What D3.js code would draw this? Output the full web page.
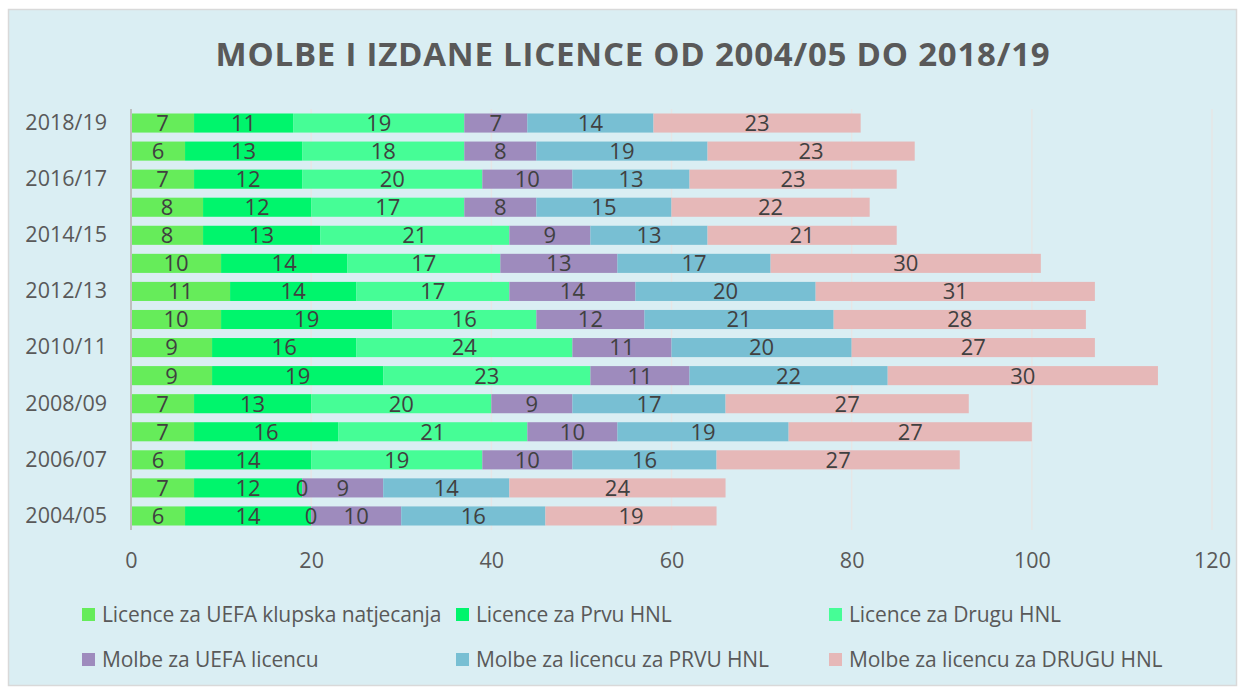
<!DOCTYPE html>
<html><head><meta charset="utf-8">
<script src="https://cdn.jsdelivr.net/npm/d3@7"></script>
<style>body{margin:0;background:#fff;}svg{display:block;font-family:"Open Sans",sans-serif;}</style>
</head><body>
<svg id="c" width="1238" height="687"></svg>
<script>
const seasons = ["2004/05","2005/06","2006/07","2007/08","2008/09","2009/10","2010/11","2011/12","2012/13","2013/14","2014/15","2015/16","2016/17","2017/18","2018/19"];
const seriesNames = ["Licence za UEFA klupska natjecanja","Licence za Prvu HNL","Licence za Drugu HNL","Molbe za UEFA licencu","Molbe za licencu za PRVU HNL","Molbe za licencu za DRUGU HNL"];
const uefaLic   = [6,7,6,7,7,9,9,10,11,10,8,8,7,6,7];
const prvaLic   = [14,12,14,16,13,19,16,19,14,14,13,12,12,13,11];
const drugaLic  = [0,0,19,21,20,23,24,16,17,17,21,17,20,18,19];
const uefaMol   = [10,9,10,10,9,11,11,12,14,13,9,8,10,8,7];
const prvaMol   = [16,14,16,19,17,22,20,21,20,17,13,15,13,19,14];
const drugaMol  = [19,24,27,27,27,30,27,28,31,30,21,22,23,23,23];
const xTicks = [0,20,40,60,80,100,120];
const colors = ["#66EC5A","#00F56C","#46FD96","#9E8BBD","#78BFD3","#E6B8B8"];

const series = [uefaLic,prvaLic,drugaLic,uefaMol,prvaMol,drugaMol];
const svg = d3.select("#c");
svg.append("rect").attr("x",8.5).attr("y",9.5).attr("width",1228).attr("height",676)
  .attr("fill","#DAEEF3").attr("stroke","#D9D9D9").attr("stroke-width",1.5);

const title = svg.append("text").attr("x",633).attr("y",66).attr("text-anchor","middle")
  .attr("font-size",33).attr("font-weight",700).attr("fill","#595959")
  .text("MOLBE I IZDANE LICENCE OD 2004/05 DO 2018/19");
{ const w = title.node().getComputedTextLength(); const n = title.text().length;
  title.attr("letter-spacing", ((834 - w)/(n-1)).toFixed(2)); }

const x = d3.scaleLinear().domain([0,120]).range([131,1212]);
const y = d3.scaleBand().domain(seasons.slice().reverse()).range([109,530]).paddingInner(0.32).paddingOuter(0.16);

// grid
svg.append("g").selectAll("line").data(xTicks.filter(d=>d>0)).join("line")
  .attr("x1",d=>x(d)).attr("x2",d=>x(d)).attr("y1",109).attr("y2",530)
  .attr("stroke","#E6E6E6").attr("stroke-width",1.5);

const table = seasons.map((s,i)=>{const o={season:s}; seriesNames.forEach((n,k)=>o[n]=series[k][i]); return o;});
const stack = d3.stack().keys(seriesNames)(table);

const g = svg.append("g");
stack.forEach((layer,k)=>{
  g.append("g").selectAll("rect").data(layer).join("rect")
    .attr("x",d=>x(d[0])).attr("width",d=>x(d[1])-x(d[0]))
    .attr("y",d=>y(d.data.season)).attr("height",y.bandwidth())
    .attr("fill",colors[k]);
});
stack.forEach((layer,k)=>{
  g.append("g").selectAll("text").data(layer).join("text")
    .attr("x",d=>(x(d[0])+x(d[1]))/2).attr("y",d=>y(d.data.season)+y.bandwidth()/2)
    .attr("dy","0.36em").attr("text-anchor","middle").attr("font-size",22).attr("fill","#404040")
    .text(d=>d[1]-d[0]);
});

// axis line at 0
svg.append("line").attr("x1",x(0)).attr("x2",x(0)).attr("y1",109).attr("y2",530)
  .attr("stroke","#BFBFBF").attr("stroke-width",2);

// x tick labels
const xa = svg.append("g").attr("transform","translate(0,530)").call(d3.axisBottom(x).tickValues(xTicks).tickSize(0).tickPadding(23));
xa.select(".domain").remove();
xa.selectAll("text").attr("font-size",21.5).attr("fill","#595959").attr("font-family","Open Sans");

// y labels
const ya = svg.append("g").attr("transform","translate(131,0)").call(d3.axisLeft(y).tickSize(0).tickPadding(24)
  .tickFormat((d,i)=> (seasons.indexOf(d)%2===0)?d:""));
ya.select(".domain").remove();
ya.selectAll("text").attr("font-size",21.5).attr("fill","#595959").attr("font-family","Open Sans");

// legend
const legPos = [[82,615],[456,615],[829,615],[82,660],[456,660],[829,660]];
const leg = svg.append("g").selectAll("g").data(seriesNames).join("g")
  .attr("transform",(d,i)=>`translate(${legPos[i][0]},${legPos[i][1]})`);
leg.append("rect").attr("x",0).attr("y",-7).attr("width",13).attr("height",13).attr("fill",(d,i)=>colors[i]);
leg.append("text").attr("x",20).attr("y",0).attr("dy","0.35em").attr("font-size",21).attr("fill","#595959")
  .attr("letter-spacing",-0.1).text(d=>d);
</script>
</body></html>
